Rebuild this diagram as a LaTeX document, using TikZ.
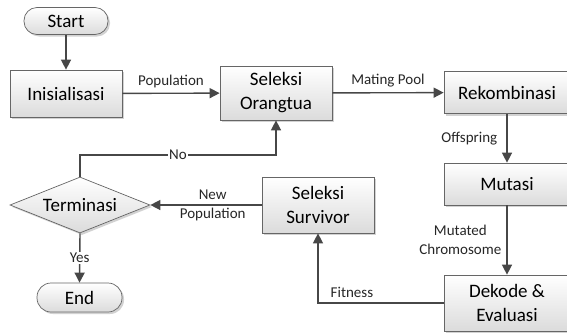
\documentclass[tikz,border=0pt]{standalone}
\usepackage{fontspec}
\setmainfont{Carlito}
\usetikzlibrary{shapes.geometric,arrows.meta,shadows}
\begin{document}
\begin{tikzpicture}[x=1pt,y=-1pt,
  base/.style={draw=black!60, line width=0.7pt, top color=white, bottom color=black!14,
    drop shadow={shadow xshift=2pt, shadow yshift=-2pt, fill=black!22, opacity=0.8},
    align=center, font=\fontsize{19}{24}\selectfont, inner sep=0pt},
  box/.style={base, rectangle},
  pill/.style={base, rectangle, rounded corners=13pt},
  decision/.style={base, diamond, aspect=2.5},
  flow/.style={draw=black!72, line width=1.4pt, -{Triangle[length=10pt,width=10pt]}},
  lbl/.style={font=\fontsize{15}{19}\selectfont, align=center, text=black!85, inner sep=1pt}]
\useasboundingbox (0,0) rectangle (567,335);
\node[pill, minimum width=84pt, minimum height=27pt] (start) at (66,21) {Start};
\node[box, minimum width=112pt, minimum height=47pt] (ini) at (66,93.5) {Inisialisasi};
\node[box, minimum width=112pt, minimum height=54pt] (selo) at (276,93) {Seleksi\\Orangtua};
\node[box, minimum width=126pt, minimum height=42pt] (rek) at (507,92.5) {Rekombinasi};
\node[box, minimum width=126pt, minimum height=42pt] (mut) at (507,184) {Mutasi};
\node[box, minimum width=126pt, minimum height=56pt] (dek) at (507,303) {Dekode \&\\Evaluasi};
\node[box, minimum width=112pt, minimum height=56pt] (surv) at (318,205) {Seleksi\\Survivor};
\node[decision, minimum width=140pt, minimum height=56pt] (term) at (80,205) {Terminasi};
\node[pill, minimum width=85pt, minimum height=29pt, rounded corners=14pt] (end) at (79.5,297.5) {End};
\coordinate (nocorner) at (80,155);
\coordinate (fitcorner) at (318,303);

\draw[flow] (start) -- (ini);
\draw[flow] (ini) -- node[lbl, above=4pt] {Population} (selo);
\draw[flow] (selo) -- node[lbl, above=4pt] {Mating Pool} (rek);
\draw[flow] (rek) -- node[lbl, left=8pt] {Offspring} (mut);
\draw[flow] (mut) -- node[lbl, left=4pt] {Mutated\\Chromosome} (dek);
\draw[flow] (dek.west) -- node[lbl, pos=0.73, above=4pt] {Fitness} (fitcorner) -- (surv.south);
\draw[flow] (surv.west) -- node[lbl, pos=0.44] {New\\Population} (term.east);
\draw[flow] (term.north) -- (nocorner) -- node[lbl, fill=white, pos=0.5] {No} (nocorner -| selo.south) -- (selo.south);
\draw[flow] (term.south) -- node[lbl, fill=white] {Yes} (end.north);
\end{tikzpicture}
\end{document}
